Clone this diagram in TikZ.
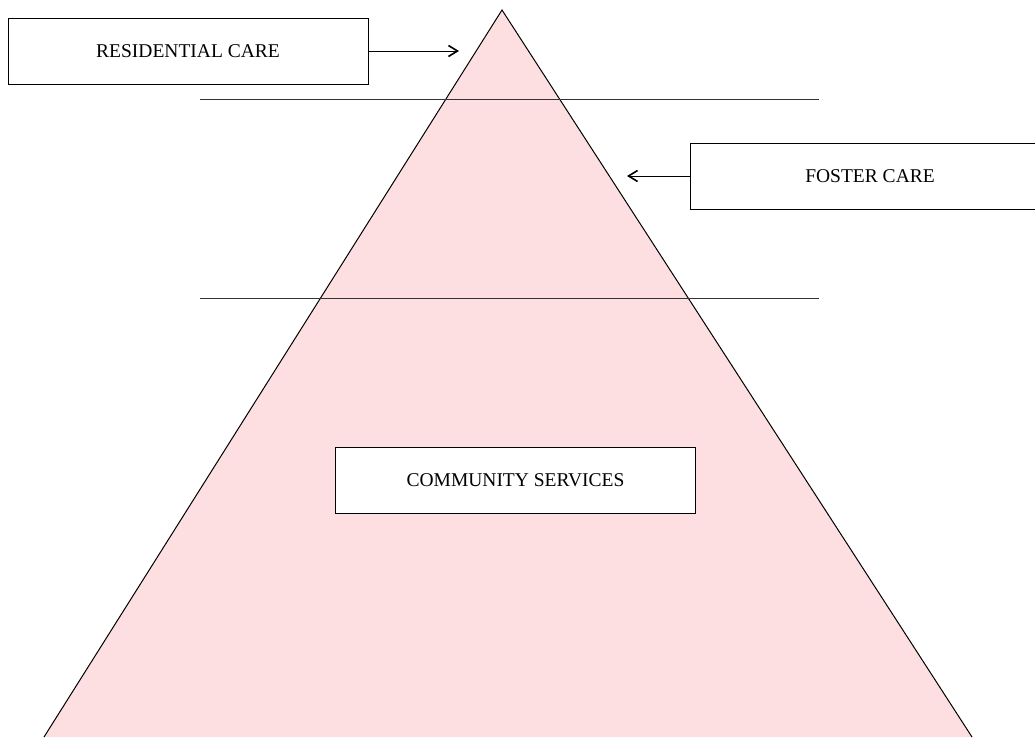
\documentclass[tikz,border=0pt]{standalone}
\usepackage{fontspec}
\setmainfont{Liberation Serif}
\usetikzlibrary{arrows.meta}
\definecolor{pyr}{RGB}{253,223,225}
\tikzset{
  boxnode/.style={draw=black, fill=white, line width=1pt, minimum width=360pt, minimum height=66pt, inner sep=0pt, font=\fontsize{19.5}{21}\selectfont},
  conn/.style={line width=1pt, -{Straight Barb[length=9pt,width=11pt,line width=1.6pt]}},
  divider/.style={line width=1pt, draw=black!80}
}
\begin{document}
\begin{tikzpicture}[x=1pt,y=-1pt]
\useasboundingbox (0,0) rectangle (1035,737);
\clip (0,0) rectangle (1035,737);
\coordinate (A) at (502,10);
\coordinate (BL) at (44,737);
\coordinate (BR) at (972,737);
\fill[pyr] (A) -- (BR) -- (BL) -- cycle;
\draw[line width=1pt] (BL) -- (A) -- (BR);
\coordinate (d1l) at (200,99.5);
\coordinate (d1r) at (819,99.5);
\coordinate (d2l) at (200,298);
\coordinate (d2r) at (819,298);
\draw[divider] (d1l) -- (d1r);
\draw[divider] (d2l) -- (d2r);
\node[boxnode] (res) at (188,51) {RESIDENTIAL CARE};
\node[boxnode] (fos) at (870,176) {FOSTER CARE};
\node[boxnode] (com) at (515.5,480) {COMMUNITY SERVICES};
\coordinate (resT) at (459,51);
\coordinate (fosT) at (627,176);
\draw[conn] (res.east) -- (resT);
\draw[conn] (fos.west) -- (fosT);
\end{tikzpicture}
\end{document}
